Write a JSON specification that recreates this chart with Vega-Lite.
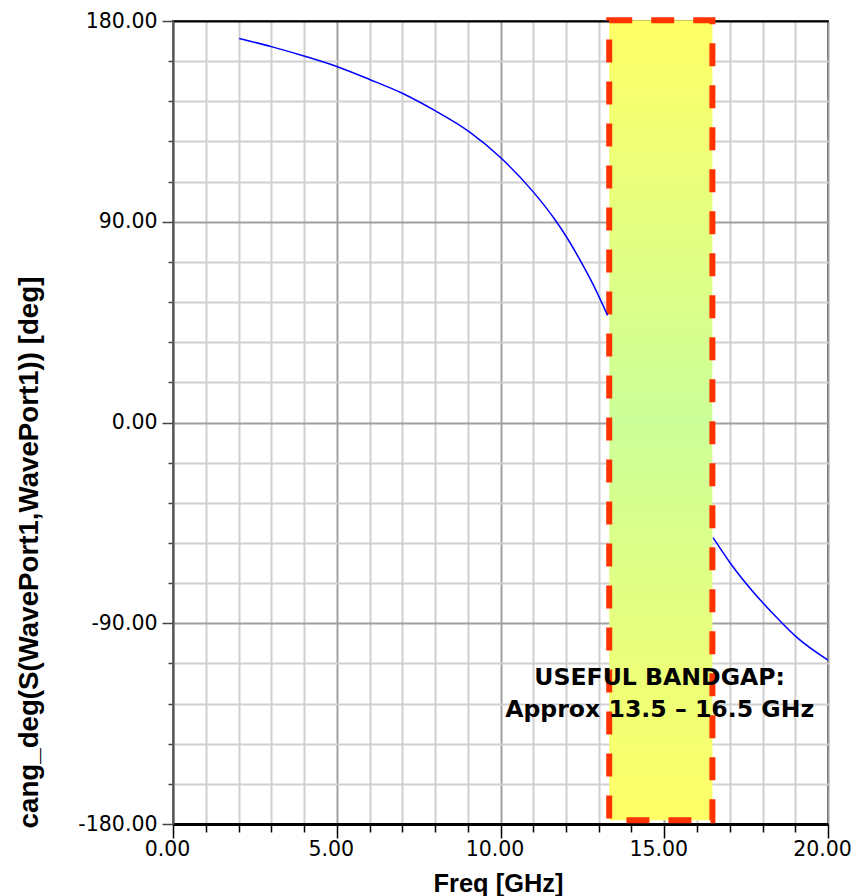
{
  "$schema": "https://vega.github.io/schema/vega-lite/v6.json",
  "width": 655,
  "height": 803,
  "autosize": {"type": "none"},
  "padding": {"left": 173, "top": 21, "right": 28, "bottom": 72},
  "background": "white",
  "config": {
    "view": {"stroke": "#555555", "strokeWidth": 2},
    "axis": {"labelOverlap": false, "labelBound": false, "labelFlush": false}
  },
  "datasets": {
    "curve": [
      {"seg": "a", "f": 2.02, "p": 172.2},
      {"seg": "a", "f": 3.0, "p": 168.5},
      {"seg": "a", "f": 4.0, "p": 164.3},
      {"seg": "a", "f": 5.0, "p": 159.6},
      {"seg": "a", "f": 6.0, "p": 153.8},
      {"seg": "a", "f": 7.0, "p": 147.6},
      {"seg": "a", "f": 8.0, "p": 139.8},
      {"seg": "a", "f": 9.05, "p": 130.3},
      {"seg": "a", "f": 10.0, "p": 118.8},
      {"seg": "a", "f": 11.0, "p": 103.4},
      {"seg": "a", "f": 11.66, "p": 91.0},
      {"seg": "a", "f": 12.04, "p": 82.6},
      {"seg": "a", "f": 12.43, "p": 72.8},
      {"seg": "a", "f": 12.83, "p": 61.8},
      {"seg": "a", "f": 13.27, "p": 48.0},
      {"seg": "b", "f": 16.49, "p": -51.6},
      {"seg": "b", "f": 17.03, "p": -63.3},
      {"seg": "b", "f": 18.03, "p": -81.2},
      {"seg": "b", "f": 18.53, "p": -88.9},
      {"seg": "b", "f": 19.04, "p": -96.2},
      {"seg": "b", "f": 20.0, "p": -106.5}
    ],
    "band": [{"f": 13.32, "f2": 16.47, "p": 180.3, "p2": -178.3}],
    "note": [{"f": 14.86, "p": -117.9, "label": "USEFUL BANDGAP:\nApprox 13.5 – 16.5 GHz"}]
  },
  "encoding": {
    "x": {
      "field": "f", "type": "quantitative",
      "scale": {"domain": [0, 20], "nice": false, "zero": false},
      "axis": {
        "values": [0,1,2,3,4,5,6,7,8,9,10,11,12,13,14,15,16,17,18,19,20],
        "title": "Freq [GHz]",
        "titleFont": "Liberation Sans",
        "titleFontWeight": "bold",
        "titleFontSize": 25.4,
        "titleColor": "black",
        "titleBaseline": "alphabetic",
        "titleAlign": "center",
        "titleAnchor": null,
        "titleX": 325,
        "titleY": 67,
        "labelExpr": "datum.value % 5 === 0 ? datum.value + '.00' : ''",
        "labelFont": "DejaVu Sans",
        "labelFontSize": 20.5,
        "labelColor": "black",
        "labelOffset": -6,
        "labelPadding": 1,
        "labelOverlap": false,
        "labelFlush": false,
        "labelBound": false,
        "tickSize": {"condition": {"test": "datum.value % 5 === 0", "value": 14}, "value": 8},
        "tickColor": "black",
        "tickWidth": 1.5,
        "domainColor": "black",
        "domainWidth": 3,
        "grid": true,
        "gridColor": {"condition": {"test": "datum.value % 5 === 0", "value": "#a0a0a0"}, "value": "#d0d0d0"},
        "gridWidth": 2
      }
    },
    "y": {
      "field": "p", "type": "quantitative",
      "scale": {"domain": [-180, 180], "nice": false, "zero": false},
      "axis": {
        "values": [-180,-162,-144,-126,-108,-90,-72,-54,-36,-18,0,18,36,54,72,90,108,126,144,162,180],
        "title": "cang_deg(S(WavePort1,WavePort1)) [deg]",
        "titleFont": "Liberation Sans",
        "titleFontWeight": "bold",
        "titleFontSize": 27.7,
        "titleColor": "black",
        "titleAngle": 270,
        "titleBaseline": "alphabetic",
        "titleAlign": "center",
        "titleAnchor": null,
        "titleX": -136,
        "titleY": 531,
        "labelExpr": "datum.value % 90 === 0 ? (datum.value === 0 ? '0.00' : datum.value + '.00') : ''",
        "labelFont": "DejaVu Sans",
        "labelFontSize": 20.5,
        "labelColor": "black",
        "labelPadding": 5,
        "labelOverlap": false,
        "labelFlush": false,
        "tickSize": {"condition": {"test": "datum.value % 90 === 0", "value": 11}, "value": 5},
        "tickColor": "#444444",
        "tickWidth": 1.5,
        "domainColor": "#555555",
        "domainWidth": 2,
        "grid": true,
        "gridColor": {"condition": [{"test": "datum.value === 180", "value": "black"}, {"test": "datum.value % 90 === 0", "value": "#a0a0a0"}], "value": "#d0d0d0"},
        "gridWidth": 2
      }
    }
  },
  "layer": [
    {
      "data": {"name": "band"},
      "mark": {
        "type": "rect",
        "clip": false,
        "fill": {
          "gradient": "linear", "x1": 0, "y1": 0, "x2": 0, "y2": 1,
          "stops": [
            {"offset": 0, "color": "#ffff66"},
            {"offset": 0.5, "color": "#ccff99"},
            {"offset": 1, "color": "#ffff66"}
          ]
        },
        "stroke": "#ff3300",
        "strokeWidth": 6,
        "strokeDash": [23, 19]
      },
      "encoding": {
        "x2": {"field": "f2"},
        "y2": {"field": "p2"}
      }
    },
    {
      "data": {"name": "curve"},
      "mark": {"type": "line", "color": "#0000ff", "strokeWidth": 1.5, "interpolate": "monotone"},
      "encoding": {
        "detail": {"field": "seg"}
      }
    },
    {
      "data": {"name": "note"},
      "mark": {
        "type": "text",
        "font": "DejaVu Sans",
        "fontWeight": "bold",
        "fontSize": 23.6,
        "lineBreak": "\n",
        "lineHeight": 31.7,
        "align": "center",
        "baseline": "alphabetic",
        "color": "black"
      },
      "encoding": {
        "text": {"field": "label"}
      }
    }
  ]
}
